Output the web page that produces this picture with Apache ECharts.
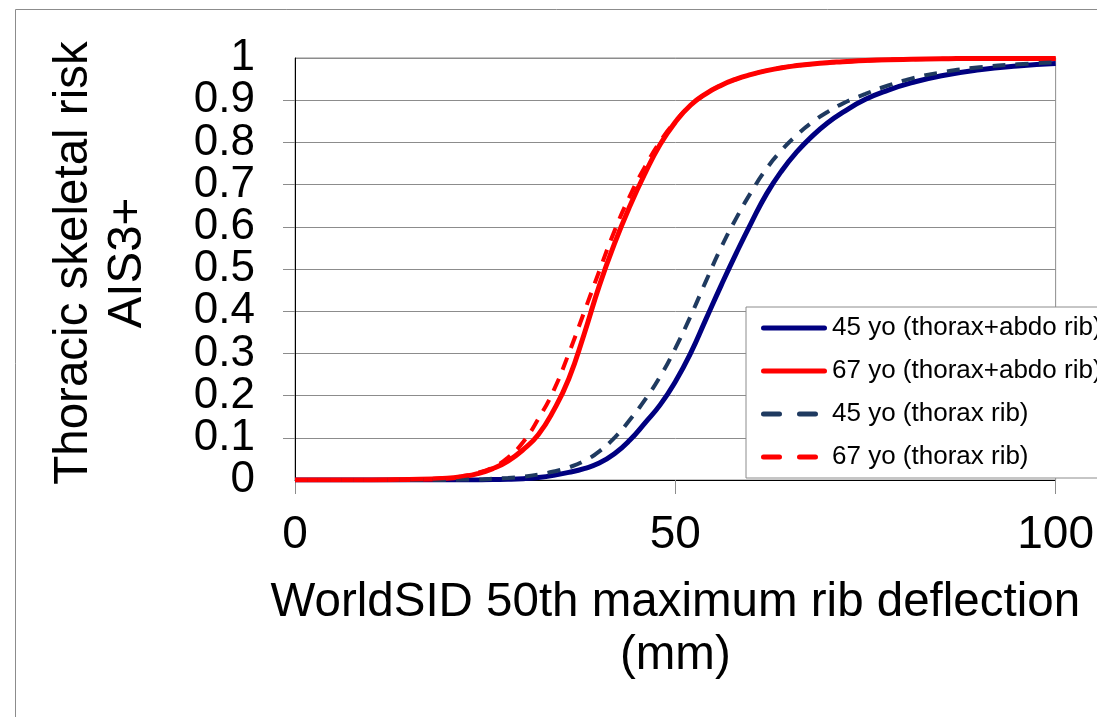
<!DOCTYPE html>
<html>
<head>
<meta charset="utf-8">
<script src="https://cdn.jsdelivr.net/npm/echarts@6/dist/echarts.min.js"></script>
<style>
html,body{margin:0;padding:0;background:#fff;}
#c{width:1097px;height:717px;}
</style>
</head>
<body>
<div id="c"></div>
<script>
// Deflection (mm)
const xs = [0,5,10,15,20,22,24,26,28,30,32,34,36,38,40,42,44,46,48,50,52,54,56,58,60,62,64,66,68,70,72,75,78,81,85,90,95,100];
// 45 yo (thorax+abdo rib)
const risk45TA = [0,0,0,0,0,0,0,0.001,0.0015,0.003,0.006,0.011,0.018,0.027,0.04,0.062,0.094,0.135,0.178,0.233,0.30,0.38,0.46,0.537,0.61,0.678,0.733,0.778,0.815,0.846,0.871,0.902,0.924,0.941,0.958,0.972,0.981,0.987];
// 67 yo (thorax+abdo rib)
const risk67TA = [0,0,0,0.001,0.004,0.008,0.015,0.027,0.045,0.072,0.108,0.165,0.24,0.345,0.46,0.56,0.648,0.726,0.795,0.848,0.888,0.915,0.935,0.95,0.961,0.97,0.977,0.982,0.986,0.989,0.991,0.994,0.996,0.997,0.998,0.999,0.999,0.999];
// 45 yo (thorax rib)
const risk45T = [0,0,0,0,0,0.001,0.001,0.003,0.005,0.008,0.013,0.02,0.03,0.045,0.068,0.10,0.142,0.19,0.245,0.312,0.388,0.47,0.55,0.62,0.683,0.738,0.782,0.818,0.848,0.872,0.892,0.915,0.935,0.951,0.966,0.978,0.985,0.99];
// 67 yo (thorax rib)
const risk67T = [0,0,0,0.001,0.005,0.009,0.017,0.03,0.053,0.09,0.145,0.212,0.30,0.397,0.495,0.59,0.672,0.742,0.802,0.85,0.888,0.915,0.935,0.95,0.961,0.97,0.977,0.982,0.986,0.989,0.991,0.994,0.996,0.997,0.998,0.999,0.999,0.999];

const names = ['45 yo (thorax+abdo rib)','67 yo (thorax+abdo rib)','45 yo (thorax rib)','67 yo (thorax rib)'];
const xTitle = 'WorldSID 50th maximum rib deflection\n(mm)';
const yTitle = 'Thoracic skeletal risk\nAIS3+';

const FONT = '"Liberation Sans", Arial, sans-serif';
const pair = arr => xs.map((x, i) => [x, arr[i]]);

const chart = echarts.init(document.getElementById('c'), null, {renderer: 'canvas'});

function mk(name, data, color, width, dashed) {
  return {
    name: name,
    type: 'line',
    yAxisIndex: 0,
    data: pair(data),
    smooth: 0.5,
    symbol: 'none',
    showSymbol: false,
    lineStyle: {color: color, width: width, type: dashed ? [13, 10] : 'solid', cap: 'butt'},
    itemStyle: {color: color},
    emphasis: {disabled: true},
    animation: false
  };
}

const solidIcon = 'path://M2.5,0 L63.5,0 A2.5,2.5 0 0 1 63.5,5 L2.5,5 A2.5,2.5 0 0 1 2.5,0 Z';
const dashIcon = 'path://M2.5,0 L18.5,0 A2.5,2.5 0 0 1 18.5,5 L2.5,5 A2.5,2.5 0 0 1 2.5,0 Z M38.5,0 L54.5,0 A2.5,2.5 0 0 1 54.5,5 L38.5,5 A2.5,2.5 0 0 1 38.5,0 Z M65.9,2.5 L66,2.5 Z';

const yLabelStyle = {fontFamily: FONT, fontSize: 44, color: '#000', margin: 40,
  formatter: v => String(Math.round(v * 10) / 10)};

chart.setOption({
  animation: false,
  backgroundColor: '#ffffff',
  textStyle: {fontFamily: FONT},
  graphic: [{
    type: 'rect', left: 13, top: 7, silent: true, z: -10,
    shape: {width: 1200, height: 800},
    style: {fill: 'none', stroke: '#8c8c8c', lineWidth: 1}
  }],
  grid: {left: 295, top: 58, right: 34, bottom: 237, show: true, borderColor: '#8c8c8c', borderWidth: 1},
  legend: {
    orient: 'vertical',
    left: 746, top: 307,
    padding: [6, 30, 6, 15],
    itemGap: 13,
    itemWidth: 66, itemHeight: 5,
    symbolKeepAspect: false,
    backgroundColor: '#ffffff',
    borderColor: '#8c8c8c', borderWidth: 1, borderRadius: 0,
    textStyle: {fontFamily: FONT, fontSize: 26, color: '#000', lineHeight: 30},
    data: [
      {name: names[0], icon: solidIcon},
      {name: names[1], icon: solidIcon},
      {name: names[2], icon: dashIcon},
      {name: names[3], icon: dashIcon}
    ]
  },
  xAxis: {
    type: 'value', min: 0, max: 100, interval: 50,
    axisLine: {show: true, onZero: false, lineStyle: {color: '#000', width: 1}},
    axisTick: {show: true, inside: false, length: 14, lineStyle: {color: '#8c8c8c'}},
    axisLabel: {fontFamily: FONT, fontSize: 46, color: '#000', margin: 32, showMinLabel: true, showMaxLabel: true},
    splitLine: {show: false},
    name: xTitle,
    nameLocation: 'middle',
    nameGap: 96,
    nameTextStyle: {fontFamily: FONT, fontSize: 47.5, color: '#000', lineHeight: 53}
  },
  yAxis: [{
    type: 'value', min: 0, max: 1, interval: 0.1, position: 'left',
    axisLine: {show: true, onZero: false, lineStyle: {color: '#000', width: 1}},
    axisTick: {show: true, inside: false, length: 12, lineStyle: {color: '#8c8c8c'}},
    axisLabel: Object.assign({showMinLabel: false, showMaxLabel: false}, yLabelStyle),
    splitLine: {show: true, lineStyle: {color: '#8c8c8c', width: 1}},
    name: yTitle,
    nameLocation: 'middle',
    nameRotate: 90,
    nameGap: 140,
    nameTextStyle: {fontFamily: FONT, fontSize: 47.5, color: '#000', lineHeight: 54, padding: [0, 0, 0, 12]}
  }, {
    type: 'value', min: 0, max: 1, interval: 1, position: 'left', offset: 0,
    axisLine: {show: false},
    axisTick: {show: false},
    splitLine: {show: false},
    axisLabel: Object.assign({showMinLabel: true, showMaxLabel: true}, yLabelStyle)
  }],
  series: [
    mk(names[0], risk45TA, '#000080', 5, false),
    mk(names[1], risk67TA, '#ff0000', 5, false),
    mk(names[2], risk45T, '#1f3a60', 4, true),
    mk(names[3], risk67T, '#ff0000', 4, true)
  ]
});
</script>
</body>
</html>
